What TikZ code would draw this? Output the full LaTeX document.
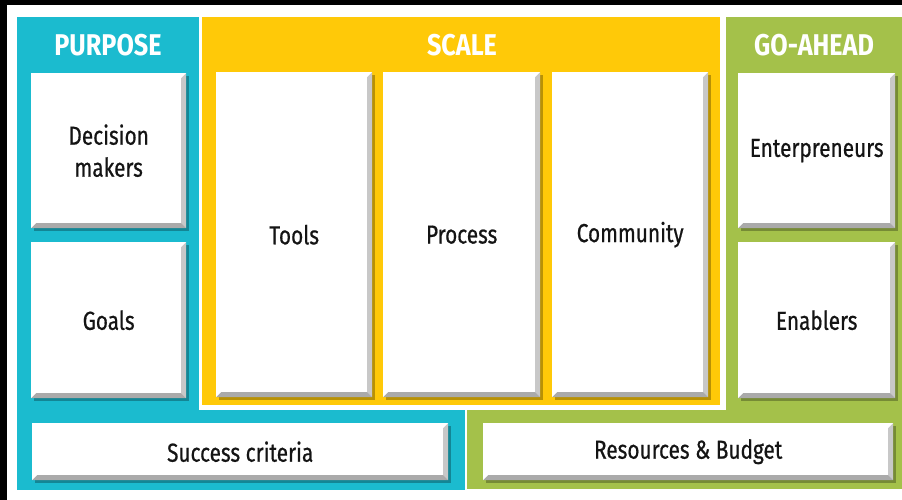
\documentclass[tikz,border=0pt]{standalone}
\usepackage{fontspec}
\setmainfont{Fira Sans}[FakeStretch=0.8,FakeBold=0.6]
\newfontfamily\headfont{Fira Sans}[FakeStretch=0.84]
\usepackage{tikz}
\usetikzlibrary{positioning}
\definecolor{cteal}{RGB}{27,187,207}
\definecolor{cyel}{RGB}{255,201,8}
\definecolor{cgreen}{RGB}{164,193,74}
\definecolor{bevel}{RGB}{200,200,200}
\tikzset{
  head/.style={font=\headfont\fontsize{30}{32}\selectfont\bfseries,text=white,inner sep=0pt},
  card/.style={fill=white,align=center,anchor=north west,inner sep=0pt,
    font=\fontsize{26}{32}\selectfont,text=black!92,
    preaction={fill=black,fill opacity=0.28,transform canvas={shift={(3pt,-3pt)}}},
    path picture={
      \fill[bevel] (path picture bounding box.north east) -- (path picture bounding box.south east)
        -- ([shift={(-5pt,5pt)}]path picture bounding box.south east)
        -- ([shift={(-5pt,-5pt)}]path picture bounding box.north east) -- cycle;
      \fill[bevel!85!black] (path picture bounding box.south west) -- (path picture bounding box.south east)
        -- ([shift={(-5pt,5pt)}]path picture bounding box.south east)
        -- ([shift={(5pt,5pt)}]path picture bounding box.south west) -- cycle;
    }}
}

\begin{document}
\begin{tikzpicture}[x=1pt,y=-1pt]
\useasboundingbox (0,0) rectangle (902,500);
% frame and coloured areas
\fill[black] (0,0) rectangle (902,500);
\fill[white] (7,5) rectangle (902,500);
\fill[cteal] (17,17) rectangle (465,490);
\fill[cgreen] (467,17) rectangle (902,489);
\fill[white] (199,15) rectangle (726,410);
\fill[cyel] (202,17) rectangle (720,405);
% headings
\node[head] (hp) at (108,45) {PURPOSE};
\node[head] (hs) at (462,45) {SCALE};
\node[head] (hg) at (814,45) {GO-AHEAD};
% cards
\node[card,minimum width=155,minimum height=155] (dm) at (31,73) {Decision\\makers};
\node[card,minimum width=155,minimum height=156] (goal) at (31,242) {Goals};
\node[card,minimum width=156,minimum height=325] (tool) at (216,72) {Tools};
\node[card,minimum width=157,minimum height=325] (proc) at (383,72) {Process};
\node[card,minimum width=156,minimum height=325] (comm) at (552,72) {Community};
\node[card,minimum width=157,minimum height=155] (ent) at (738,73) {Enterpreneurs};
\node[card,minimum width=157,minimum height=156] (ena) at (738,242) {Enablers};
\node[card,minimum width=416,minimum height=57] (succ) at (32,423) {Success criteria};
\node[card,minimum width=410,minimum height=57] (res) at (483,423) {Resources \& Budget};
\end{tikzpicture}
\end{document}
